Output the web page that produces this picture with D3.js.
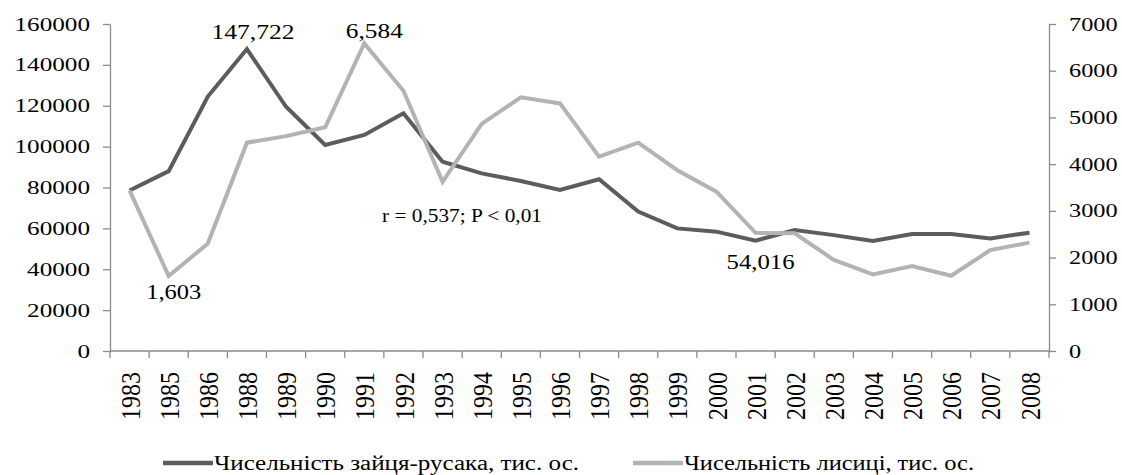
<!DOCTYPE html>
<meta charset="utf-8">
<style>
    body { margin: 0; background: #fff; }
    .axis path, .axis line { stroke: #8a8a8a; stroke-width: 1.3px; }
</style>
<body>
<div id="chart"></div>
<script src="https://d3js.org/d3.v7.min.js"></script>
<script>
    // years on the category axis (1984 and 1987 are absent in the source)
    var years = ["1983", "1985", "1986", "1988", "1989", "1990", "1991", "1992", "1993", "1994",
        "1995", "1996", "1997", "1998", "1999", "2000", "2001", "2002", "2003", "2004",
        "2005", "2006", "2007", "2008"];
    // hare numbers (left axis)
    var hare = [78500, 88000, 124500, 147722, 119500, 100800, 105700, 116300, 92600, 86900,
        83200, 78800, 84000, 68200, 60000, 58400, 54016, 59200, 56700, 53800,
        57200, 57200, 55100, 57900];
    // fox numbers (right axis)
    var fox = [3440, 1603, 2300, 4460, 4600, 4790, 6584, 5570, 3620, 4860,
        5430, 5300, 4160, 4460, 3870, 3410, 2530, 2520, 1950, 1640,
        1820, 1610, 2160, 2320];
    var leftTicks = [0, 20000, 40000, 60000, 80000, 100000, 120000, 140000, 160000];
    var rightTicks = [0, 1000, 2000, 3000, 4000, 5000, 6000, 7000];
    var seriesNames = ["Чисельність зайця-русака, тис. ос.", "Чисельність лисиці, тис. ос."];
    var statText = "r = 0,537; P < 0,01";

    var W = 1122, H = 475;
    var mLeft = 110, mRight = 1049, mTop = 24, mBottom = 351;
    var darkCol = "#5c5c5c", lightCol = "#b3b3b3";
    var FONT = "'Liberation Serif', 'Times New Roman', serif";

    var svg = d3.select("#chart").append("svg")
        .attr("width", W)
        .attr("height", H);

    var x = d3.scaleBand().domain(years).range([mLeft, mRight]);
    var yL = d3.scaleLinear().domain([0, 160000]).range([mBottom, mTop]);
    var yR = d3.scaleLinear().domain([0, 7000]).range([mBottom, mTop]);
    var cx = function (d) { return x(d) + x.bandwidth() / 2; };

    // left axis
    var gL = svg.append("g")
        .attr("class", "axis")
        .attr("transform", "translate(" + mLeft + ",0)")
        .call(d3.axisLeft(yL).tickValues(leftTicks).tickSize(7).tickSizeOuter(0).tickFormat(d3.format("d")));
    gL.selectAll("text")
        .attr("x", null)
        .attr("dy", null)
        .attr("transform", "translate(-20,6) scale(1.4,1)")
        .style("font-family", FONT)
        .style("font-size", "18px");

    // right axis
    var gR = svg.append("g")
        .attr("class", "axis")
        .attr("transform", "translate(" + mRight + ",0)")
        .call(d3.axisRight(yR).tickValues(rightTicks).tickSize(7).tickSizeOuter(0).tickFormat(d3.format("d")));
    gR.selectAll("text")
        .attr("x", null)
        .attr("dy", null)
        .attr("transform", "translate(20,6) scale(1.35,1)")
        .style("font-family", FONT)
        .style("font-size", "18px");

    // category axis: ticks between categories
    var gX = svg.append("g").attr("class", "axis");
    gX.append("line")
        .attr("x1", mLeft).attr("x2", mRight)
        .attr("y1", mBottom).attr("y2", mBottom);
    gX.selectAll(".tk")
        .data(years.concat(["end"]))
        .enter().append("line")
        .attr("class", "tk")
        .attr("x1", function (d) { return d === "end" ? mRight : x(d); })
        .attr("x2", function (d) { return d === "end" ? mRight : x(d); })
        .attr("y1", mBottom).attr("y2", mBottom + 7);
    gX.selectAll(".yl")
        .data(years)
        .enter().append("text")
        .attr("class", "yl")
        .attr("transform", function (d) {
            return "translate(" + (cx(d) + 1) + "," + (mBottom + 21) + ") rotate(-90) scale(1,1.15)";
        })
        .attr("text-anchor", "end")
        .attr("dy", "0.33em")
        .style("font-family", FONT)
        .style("font-size", "24px")
        .text(function (d) { return d; });

    // lines
    var lineL = d3.line()
        .x(function (d, i) { return cx(years[i]); })
        .y(function (d) { return yL(d); });
    var lineR = d3.line()
        .x(function (d, i) { return cx(years[i]); })
        .y(function (d) { return yR(d); });

    svg.append("path")
        .datum(hare)
        .attr("d", lineL)
        .attr("fill", "none")
        .attr("stroke", darkCol)
        .attr("stroke-width", 4);
    svg.append("path")
        .datum(fox)
        .attr("d", lineR)
        .attr("fill", "none")
        .attr("stroke", lightCol)
        .attr("stroke-width", 4);

    // data labels
    var fmt = d3.format(",");
    var labels = [
        { y: "1988", v: hare[3], s: yL, dx: 6, dy: -10, w: 83 },
        { y: "1991", v: fox[6], s: yR, dx: 10, dy: -5, w: 57 },
        { y: "1985", v: fox[1], s: yR, dx: 5, dy: 23, w: 55 },
        { y: "2001", v: hare[16], s: yL, dx: 5, dy: 28, w: 68 }
    ];
    svg.selectAll(".dl")
        .data(labels)
        .enter().append("text")
        .attr("class", "dl")
        .attr("x", function (d) { return cx(d.y) + d.dx; })
        .attr("y", function (d) { return d.s(d.v) + d.dy; })
        .attr("text-anchor", "middle")
        .attr("textLength", function (d) { return d.w; })
        .attr("lengthAdjust", "spacingAndGlyphs")
        .style("font-family", FONT)
        .style("font-size", "20px")
        .text(function (d) { return fmt(d.v); });

    svg.append("text")
        .attr("x", x("1993") - 41)
        .attr("y", yL(63000))
        .attr("textLength", 160)
        .attr("lengthAdjust", "spacingAndGlyphs")
        .style("font-family", FONT)
        .style("font-size", "19px")
        .text(statText);

    // legend
    var legend = [
        { name: seriesNames[0], col: darkCol, x: 163, w: 365 },
        { name: seriesNames[1], col: lightCol, x: 633, w: 290 }
    ];
    var lg = svg.selectAll(".lg")
        .data(legend)
        .enter().append("g")
        .attr("class", "lg")
        .attr("transform", function (d) { return "translate(" + d.x + ",463)"; });
    lg.append("line")
        .attr("x1", 0).attr("x2", 50)
        .attr("stroke", function (d) { return d.col; })
        .attr("stroke-width", 4.5);
    lg.append("text")
        .attr("x", 51)
        .attr("y", 7)
        .attr("textLength", function (d) { return d.w; })
        .attr("lengthAdjust", "spacingAndGlyphs")
        .style("font-family", FONT)
        .style("font-size", "20px")
        .text(function (d) { return d.name; });
</script>
</body>
